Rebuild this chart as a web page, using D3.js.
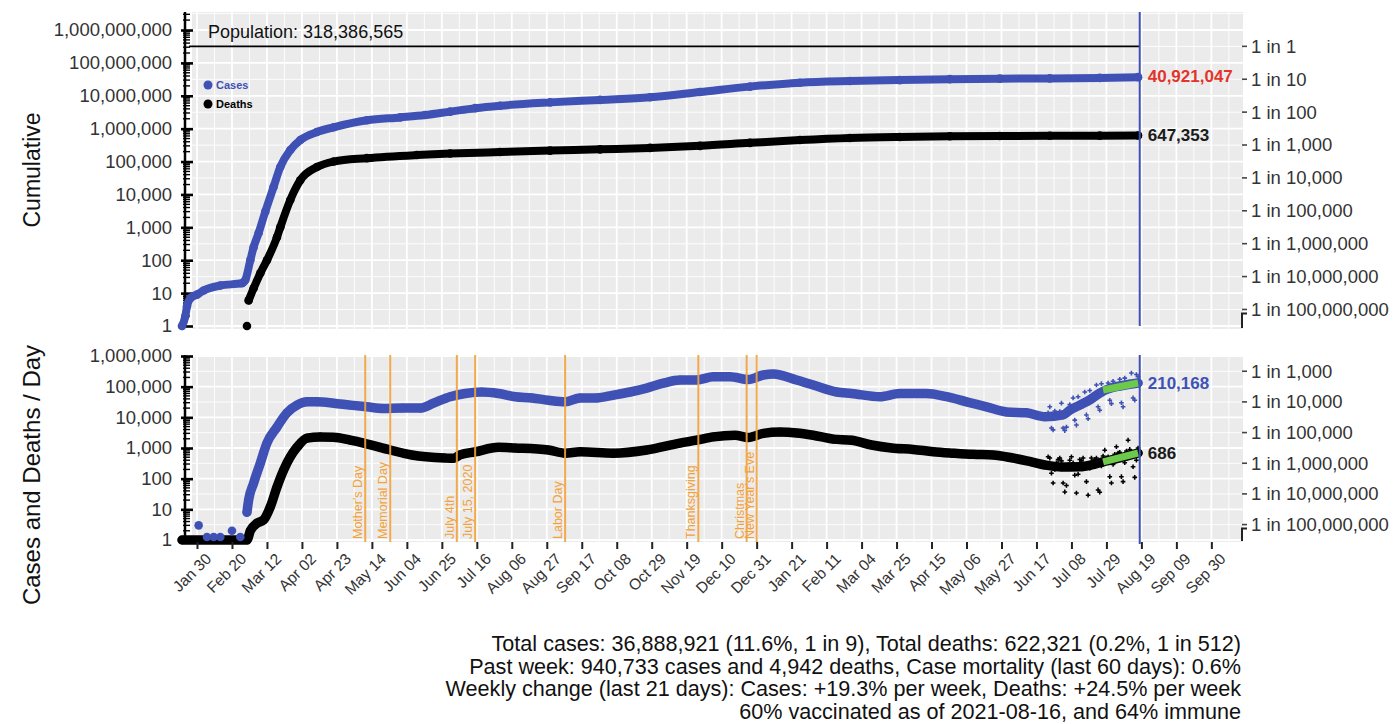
<!DOCTYPE html>
<html>
<head>
<meta charset="utf-8">
<script src="https://cdn.jsdelivr.net/npm/d3@7"></script>
<style>
  html, body { margin: 0; padding: 0; background: #fff; }
  svg { display: block; font-family: "Liberation Sans", Arial, Helvetica, sans-serif; }
</style>
</head>
<body>
<svg id="chart" width="1399" height="724"></svg>
<script>
// ---------------- data ----------------
const population = 318386565;
const todayDate = "2021-08-18";

const xTickDates = ["2020-01-30","2020-02-20","2020-03-12","2020-04-02","2020-04-23","2020-05-14",
  "2020-06-04","2020-06-25","2020-07-16","2020-08-06","2020-08-27","2020-09-17","2020-10-08",
  "2020-10-29","2020-11-19","2020-12-10","2020-12-31","2021-01-21","2021-02-11","2021-03-04",
  "2021-03-25","2021-04-15","2021-05-06","2021-05-27","2021-06-17","2021-07-08","2021-07-29",
  "2021-08-19","2021-09-09","2021-09-30"];

const holidayNames = ["Mother's Day","Memorial Day","July 4th","July 15, 2020","Labor Day",
  "Thanksgiving","Christmas","New Year's Eve"];
const holidayDates = ["2020-05-10","2020-05-25","2020-07-04","2020-07-15","2020-09-07",
  "2020-11-26","2020-12-25","2020-12-31"];

// cumulative cases
const cumCaseDates = ["2020-01-21","2020-01-23","2020-01-24","2020-01-26","2020-01-30","2020-02-03",
  "2020-02-13","2020-02-26","2020-02-28","2020-03-02","2020-03-04","2020-03-07","2020-03-11",
  "2020-03-16","2020-03-20","2020-03-26","2020-04-01","2020-04-11","2020-04-21","2020-05-11",
  "2020-05-31","2020-06-15","2020-06-30","2020-07-15","2020-07-30","2020-08-29","2020-09-28",
  "2020-10-28","2020-11-27","2020-12-27","2021-01-26","2021-02-25","2021-03-27","2021-04-26",
  "2021-05-26","2021-06-25","2021-07-25","2021-08-17"];
const cumCases = [1,2,4,7,9,12,17,20,25,100,250,670,3000,17000,68000,224000,450000,790000,1100000,
  1800000,2200000,2600000,3300000,4200000,5000000,6300000,7500000,9000000,13000000,19000000,
  25000000,28000000,30000000,32000000,33200000,33700000,35000000,36888921];

// cumulative deaths
const cumDeathDates = ["2020-02-29","2020-03-01","2020-03-04","2020-03-08","2020-03-12","2020-03-18",
  "2020-03-20","2020-03-26","2020-04-01","2020-04-11","2020-04-21","2020-05-11","2020-06-10",
  "2020-06-30","2020-07-30","2020-08-29","2020-09-28","2020-10-28","2020-11-27","2020-12-27",
  "2021-01-26","2021-02-25","2021-03-27","2021-04-26","2021-05-26","2021-06-25","2021-07-25",
  "2021-08-17"];
const cumDeaths = [1,6,14,40,100,500,1000,6800,27000,68000,100000,127000,158000,175000,195000,
  215000,235000,260000,300000,370000,450000,520000,560000,585000,600000,608000,614000,622321];

// daily cases (smoothed)
const dailyCaseDates = ["2020-02-29","2020-03-01","2020-03-04","2020-03-08","2020-03-12","2020-03-18",
  "2020-03-24","2020-03-30","2020-04-05","2020-04-11","2020-04-21","2020-05-01","2020-05-11",
  "2020-05-21","2020-06-01","2020-06-12","2020-06-20","2020-06-30","2020-07-09","2020-07-19",
  "2020-07-29","2020-08-08","2020-08-18","2020-08-28","2020-09-07","2020-09-16","2020-09-26",
  "2020-10-06","2020-10-16","2020-10-26","2020-11-05","2020-11-15","2020-11-25","2020-12-05",
  "2020-12-15","2020-12-26","2021-01-04","2021-01-10","2021-01-24","2021-02-03","2021-02-17",
  "2021-02-26","2021-03-15","2021-03-27","2021-04-12","2021-04-24","2021-05-06","2021-05-18",
  "2021-05-30","2021-06-11","2021-06-22","2021-07-03","2021-07-07","2021-07-13","2021-07-19",
  "2021-07-25","2021-07-31","2021-08-06","2021-08-12","2021-08-17"];
const dailyCases = [8,20,72,320,1450,4800,14000,25000,32000,32000,29000,25000,22000,19500,20000,
  20000,29000,47000,60000,67000,60000,47000,43000,36000,32000,43000,43000,53000,67000,90000,
  130000,165000,165000,210000,210000,170000,240000,260000,165000,113000,67000,60000,47000,60000,
  60000,47000,32000,22000,15000,14000,10500,12000,17000,25000,37000,62000,88000,105000,120000,132000];

// daily cases before community spread
const earlyCaseDates = ["2020-01-31","2020-02-05","2020-02-09","2020-02-13","2020-02-20","2020-02-25"];
const earlyCases = [3,1,1,1,2,1];

// daily deaths (smoothed)
const dailyDeathDates = ["2020-01-21","2020-02-29","2020-03-02","2020-03-06","2020-03-10","2020-03-14",
  "2020-03-18","2020-03-22","2020-03-26","2020-03-30","2020-04-05","2020-04-13","2020-04-21",
  "2020-05-01","2020-05-09","2020-05-25","2020-06-07","2020-06-27","2020-07-02","2020-07-06",
  "2020-07-15","2020-07-29","2020-08-08","2020-08-28","2020-09-07","2020-09-16","2020-10-06",
  "2020-10-26","2020-11-15","2020-11-25","2020-12-05","2020-12-18","2020-12-26","2021-01-04",
  "2021-01-14","2021-01-24","2021-02-03","2021-02-15","2021-02-26","2021-03-10","2021-03-22",
  "2021-04-04","2021-04-16","2021-04-28","2021-05-10","2021-05-22","2021-06-02","2021-06-14",
  "2021-06-22","2021-07-02","2021-07-13","2021-07-20","2021-07-27","2021-08-03","2021-08-10",
  "2021-08-17"];
const dailyDeaths = [0,0,2,3.5,4.5,12,53,190,510,1050,2100,2300,2250,1800,1450,860,590,470,460,600,
  750,1050,1000,860,680,750,680,860,1450,1800,2300,2600,2200,3000,3300,3100,2600,1950,1800,1250,
  1000,900,760,680,620,590,480,350,280,240,245,280,355,430,540,686];

// raw daily reports for the most recent weeks, starting on this date
const rawStart = "2021-06-24";
const rawCases = [14000,22000,4500,3900,16000,12500,13000,
  15500,29000,4500,3700,4800,15000,26000,
  17000,43000,8100,5600,47000,25000,30000,
  33000,67000,12000,9000,75000,43000,50000,
  60000,113000,22000,17000,125000,70000,85000,
  95000,132000,36000,28000,150000,100000,110000,
  120000,175000,30000,22000,190000,120000,130000,
  140000,277000,43000,36000,250000,210168];
const rawDeaths = [520,470,150,72,200,330,420,
  470,380,72,37,60,290,400,
  520,330,130,34,140,420,380,
  470,290,80,29,220,470,360,
  430,470,43,36,260,550,850,
  480,520,116,72,290,620,1100,
  680,720,116,80,330,800,1800,
  900,760,245,110,400,1000];

// exponential fits over the last 21 days
const fitDates = ["2021-07-27","2021-08-17"];
const caseFit = [77700,132000];
const deathFit = [355,686];

// labels at the right edge of each curve
const cumCaseLabel = 40921047;
const cumDeathLabel = 647353;
const dailyCaseLabel = 210168;
const dailyDeathLabel = 686;

const footLines = [
  "Total cases: 36,888,921 (11.6%, 1 in 9), Total deaths: 622,321 (0.2%, 1 in 512)",
  "Past week: 940,733 cases and 4,942 deaths, Case mortality (last 60 days): 0.6%",
  "Weekly change (last 21 days): Cases: +19.3% per week, Deaths: +24.5% per week",
  "60% vaccinated as of 2021-08-16, and 64% immune"
];

// ---------------- layout ----------------
const BLUE = "#3f51b5", BLACK = "#000", GREEN = "#6cc94a", ORANGE = "#f3a23a", RED = "#e3342b";
const PANEL_BG = "#ebebeb", AXIS_TXT = "#333";
const panelL = 192, panelR = 1243, axisX = 185;
const topP = { t: 12, b: 329 };
const botP = { t: 355, b: 542 };

const parse = d3.utcParse("%Y-%m-%d");
const fmtTick = d3.utcFormat("%b %d");
const fmtNum = d3.format(",");

const x = d3.scaleUtc().domain([parse("2020-01-27"), parse("2021-10-19")]).range([panelL, panelR]);
const yTop = d3.scaleLog().domain([1, 1e9]).range([326, 30]);
const yBot = d3.scaleLog().domain([1, 1e6]).range([540, 356]);

const svg = d3.select("#chart");
const xTicks = xTickDates.map(parse);

const series = (dates, values) => dates.map((d, i) => ({ date: parse(d), value: values[i] }));

// ---------------- panel background and grid ----------------
function panel(y, p, maxExp) {
  const g = svg.append("g");
  g.append("rect").attr("x", panelL).attr("y", p.t)
    .attr("width", panelR - panelL).attr("height", p.b - p.t).attr("fill", PANEL_BG);

  const step = xTicks[1] - xTicks[0];
  const mids = [];
  for (let i = -1; i < xTicks.length; i++) {
    const t = new Date((i < 0 ? +xTicks[0] - step / 2 : +xTicks[i] + step / 2));
    if (x(t) > panelL && x(t) < panelR) mids.push(t);
  }
  g.selectAll(null).data(mids).join("line")
    .attr("x1", d => x(d)).attr("x2", d => x(d)).attr("y1", p.t).attr("y2", p.b)
    .attr("stroke", "#fff").attr("stroke-width", 0.9);
  g.selectAll(null).data(xTicks.filter(d => x(d) < panelR)).join("line")
    .attr("x1", d => x(d)).attr("x2", d => x(d)).attr("y1", p.t).attr("y2", p.b)
    .attr("stroke", "#fff").attr("stroke-width", 1.8);

  const halfs = d3.range(0, maxExp + 1).map(k => Math.pow(10, k + 0.5)).filter(v => y(v) > p.t);
  g.selectAll(null).data(halfs).join("line")
    .attr("x1", panelL).attr("x2", panelR).attr("y1", d => y(d)).attr("y2", d => y(d))
    .attr("stroke", "#fff").attr("stroke-width", 0.9);
  const decs = d3.range(0, maxExp + 1).map(k => Math.pow(10, k));
  g.selectAll(null).data(decs).join("line")
    .attr("x1", panelL).attr("x2", panelR).attr("y1", d => y(d)).attr("y2", d => y(d))
    .attr("stroke", "#fff").attr("stroke-width", 1.8);
}

// ---------------- left log axis ----------------
function leftAxis(y, p, maxExp) {
  const g = svg.append("g");
  g.append("line").attr("x1", axisX).attr("x2", axisX).attr("y1", p.t).attr("y2", y(1))
    .attr("stroke", "#000").attr("stroke-width", 2.5);
  const minors = [];
  for (let k = 0; k <= maxExp + 1; k++)
    for (let m = 2; m <= 9; m++) {
      const v = m * Math.pow(10, k);
      if (y(v) >= p.t) minors.push(v);
    }
  g.selectAll(null).data(minors).join("line")
    .attr("x1", axisX - 2).attr("x2", axisX + 5).attr("y1", d => y(d)).attr("y2", d => y(d))
    .attr("stroke", "#000").attr("stroke-width", 1.4);

  const decs = d3.range(0, maxExp + 1).map(k => Math.pow(10, k));
  const ax = d3.axisLeft(y).tickValues(decs).tickFormat(fmtNum).tickSize(4).tickSizeOuter(0).tickPadding(9);
  const ga = g.append("g").attr("transform", `translate(${axisX},0)`).call(ax);
  ga.select(".domain").remove();
  ga.selectAll(".tick line").attr("x1", 8).attr("x2", -4).attr("stroke", "#000").attr("stroke-width", 2.6);
  ga.selectAll(".tick text").attr("fill", AXIS_TXT).style("font-size", "18.5px")
    .style("font-family", '"Liberation Sans", Arial, sans-serif');
}

// ---------------- right "1 in N" axis ----------------
function rightAxis(y, p, ratios) {
  const g = svg.append("g");
  const x0 = panelR - 1;
  g.selectAll(null).data(ratios).join("line")
    .attr("x1", x0).attr("x2", x0 + 5)
    .attr("y1", d => y(population / d)).attr("y2", d => y(population / d))
    .attr("stroke", "#444").attr("stroke-width", 1.6);
  g.selectAll(null).data(ratios).join("text")
    .attr("x", x0 + 9).attr("y", d => y(population / d)).attr("dy", "0.35em")
    .attr("fill", AXIS_TXT).style("font-size", "18.5px")
    .text(d => "1 in " + fmtNum(d));
  const last = ratios[ratios.length - 1];
  const yl = y(population / last) + 4;
  g.append("path")
    .attr("d", `M${x0 + 5},${yl}H${x0}V${p.b - 1}`)
    .attr("fill", "none").attr("stroke", "#222").attr("stroke-width", 2);
}

// ---------------- curves ----------------
const lineGen = y => d3.line()
  .x(d => x(d.date)).y(d => y(Math.max(1, d.value)))
  .curve(d3.curveMonotoneX);

function curve(y, data, color, width, lineFrom = 0) {
  const g = svg.append("g");
  g.append("path").datum(data.slice(lineFrom)).attr("d", lineGen(y))
    .attr("fill", "none").attr("stroke", color).attr("stroke-width", width)
    .attr("stroke-linecap", "round").attr("stroke-linejoin", "round");
  g.selectAll(null).data(data).join("circle")
    .attr("cx", d => x(d.date)).attr("cy", d => y(Math.max(1, d.value)))
    .attr("r", 4.3).attr("fill", color);
}

// ======== TOP PANEL: cumulative ========
panel(yTop, topP, 9);
leftAxis(yTop, topP, 9);
rightAxis(yTop, topP, d3.range(0, 9).map(k => Math.pow(10, k)));

curve(yTop, series(cumCaseDates, cumCases), BLUE, 8);
curve(yTop, series(cumDeathDates, cumDeaths), BLACK, 8, 1);

// population reference line
const xToday = x(parse(todayDate));
svg.append("line").attr("x1", axisX + 4).attr("x2", xToday)
  .attr("y1", yTop(population)).attr("y2", yTop(population))
  .attr("stroke", "#000").attr("stroke-width", 1.6);
svg.append("text").attr("x", 208).attr("y", 38).style("font-size", "18px").attr("fill", "#111")
  .text("Population: " + fmtNum(population));

// legend
const legend = svg.append("g");
[["Cases", BLUE, 85], ["Deaths", BLACK, 104]].forEach(([name, col, ly]) => {
  legend.append("circle").attr("cx", 208).attr("cy", ly).attr("r", 4.5).attr("fill", col);
  legend.append("text").attr("x", 216).attr("y", ly).attr("dy", "0.36em")
    .style("font-size", "11px").style("font-weight", "bold").attr("fill", col).text(name);
});

// today line (top)
svg.append("line").attr("x1", xToday).attr("x2", xToday).attr("y1", topP.t).attr("y2", topP.b - 3)
  .attr("stroke", BLUE).attr("stroke-width", 2);

// end labels (top)
svg.append("text").attr("x", xToday + 8).attr("y", yTop(cumCaseLabel)).attr("dy", "0.36em")
  .style("font-size", "17px").style("font-weight", "bold").attr("fill", RED)
  .text(fmtNum(cumCaseLabel));
svg.append("text").attr("x", xToday + 8).attr("y", yTop(cumDeathLabel)).attr("dy", "0.36em")
  .style("font-size", "17px").style("font-weight", "bold").attr("fill", "#1a1a1a")
  .text(fmtNum(cumDeathLabel));

// ======== BOTTOM PANEL: per day ========
panel(yBot, botP, 6);
leftAxis(yBot, botP, 6);
rightAxis(yBot, botP, d3.range(3, 9).map(k => Math.pow(10, k)));

curve(yBot, series(dailyCaseDates, dailyCases), BLUE, 9.5);
curve(yBot, series(dailyDeathDates, dailyDeaths), BLACK, 9.5);
svg.append("g").selectAll(null).data(series(earlyCaseDates, earlyCases)).join("circle")
  .attr("cx", d => x(d.date)).attr("cy", d => yBot(d.value) - (d.value === 1 ? 3 : 0))
  .attr("r", 4.3).attr("fill", BLUE);

// holiday markers
const hol = svg.append("g");
holidayDates.forEach((d, i) => {
  const hx = x(parse(d));
  hol.append("line").attr("x1", hx).attr("x2", hx).attr("y1", botP.t).attr("y2", botP.b)
    .attr("stroke", ORANGE).attr("stroke-width", 2).attr("opacity", 0.9);
  hol.append("text").attr("transform", `translate(${hx - 3},${botP.b - 3}) rotate(-90)`)
    .style("font-size", "12.5px").attr("fill", ORANGE).text(holidayNames[i]);
});

// raw daily reports
const rawSeries = vals => vals.map((v, i) => ({ date: d3.utcDay.offset(parse(rawStart), i), value: v }));
const cross = d3.symbol().type(d3.symbolCross).size(12);
[[rawCases, BLUE], [rawDeaths, BLACK]].forEach(([vals, col]) => {
  svg.append("g").selectAll(null).data(rawSeries(vals)).join("path")
    .attr("transform", d => `translate(${x(d.date)},${yBot(d.value)})`)
    .attr("d", cross).attr("fill", col);
});

// 21-day exponential fits
[caseFit, deathFit].forEach(vals => {
  svg.append("path").datum(series(fitDates, vals))
    .attr("d", d3.line().x(d => x(d.date)).y(d => yBot(d.value)))
    .attr("stroke", GREEN).attr("stroke-width", 7).attr("fill", "none").attr("stroke-linecap", "butt");
});

// today line (bottom)
svg.append("line").attr("x1", xToday).attr("x2", xToday).attr("y1", botP.t).attr("y2", botP.b + 2)
  .attr("stroke", BLUE).attr("stroke-width", 2);

// end labels (bottom), placed at the end of each fit
svg.append("text").attr("x", xToday + 8).attr("y", yBot(caseFit[1])).attr("dy", "0.36em")
  .style("font-size", "17px").style("font-weight", "bold").attr("fill", BLUE)
  .text(fmtNum(dailyCaseLabel));
svg.append("text").attr("x", xToday + 8).attr("y", yBot(deathFit[1])).attr("dy", "0.36em")
  .style("font-size", "17px").style("font-weight", "bold").attr("fill", "#1a1a1a")
  .text(fmtNum(dailyDeathLabel));

// x axis
const xAxis = d3.axisBottom(x).tickValues(xTicks).tickFormat(fmtTick).tickSize(7).tickSizeOuter(0);
const gx = svg.append("g").attr("transform", `translate(0,${botP.b})`).call(xAxis);
gx.select(".domain").remove();
gx.selectAll(".tick line").attr("stroke", "#222").attr("stroke-width", 2);
gx.selectAll(".tick text")
  .attr("text-anchor", "end").attr("fill", AXIS_TXT)
  .style("font-size", "15.5px").style("font-family", '"Liberation Sans", Arial, sans-serif')
  .attr("transform", "translate(7,10) rotate(-45)")
  .attr("x", 0).attr("y", 0).attr("dy", "0.71em");

// axis titles
svg.append("text").attr("transform", "translate(40,170) rotate(-90)").attr("text-anchor", "middle")
  .style("font-size", "23px").attr("fill", "#111").text("Cumulative");
svg.append("text").attr("transform", "translate(40,475) rotate(-90)").attr("text-anchor", "middle")
  .style("font-size", "24px").attr("fill", "#111").text("Cases and Deaths / Day");

// summary
svg.append("g").selectAll(null).data(footLines).join("text")
  .attr("x", 1241).attr("y", (d, i) => 651 + i * 22.5).attr("text-anchor", "end")
  .style("font-size", "21.6px").attr("fill", "#111").text(d => d);
</script>
</body>
</html>
